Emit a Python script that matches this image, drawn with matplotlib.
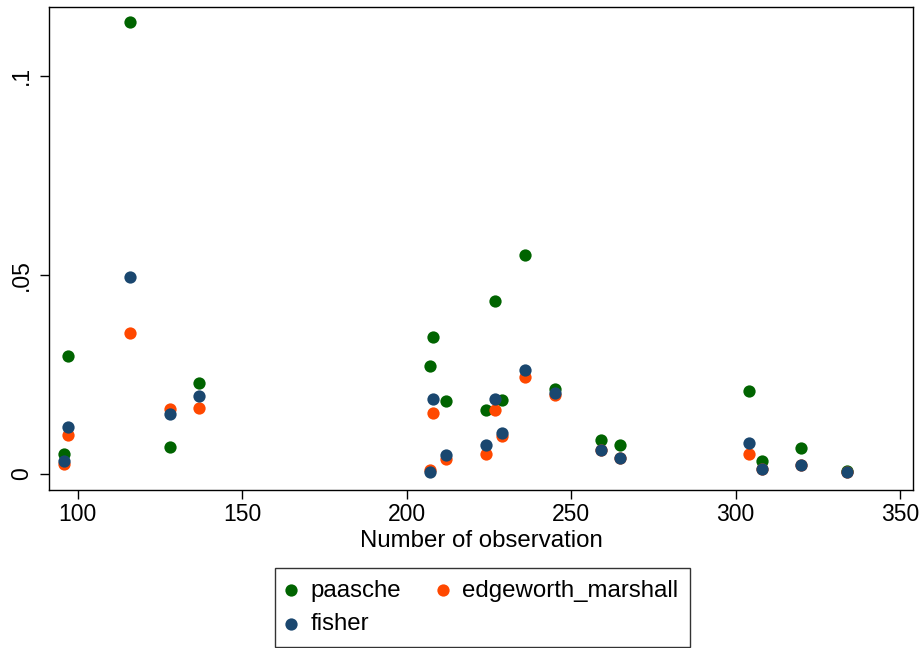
import numpy as np
import matplotlib
matplotlib.use("Agg")
import matplotlib.pyplot as plt

plt.rcParams['font.family'] = ['Liberation Sans', 'DejaVu Sans']

# number of observations per group
n_obs = [96, 97, 116, 128, 137, 207, 208, 212, 224, 227,
         229, 236, 245, 259, 265, 304, 308, 320, 334]

paasche = [0.0049, 0.0296, 0.1136, 0.0066, 0.0228, 0.0271, 0.0343, 0.0183, 0.0161, 0.0433,
           0.0186, 0.0550, 0.0213, 0.0085, 0.0073, 0.0209, 0.0033, 0.0064, 0.0008]
edgeworth_marshall = [0.0024, 0.0098, 0.0353, 0.0163, 0.0165, 0.0010, 0.0152, 0.0038, 0.0050, 0.0161,
                      0.0095, 0.0242, 0.0198, 0.0059, 0.0039, 0.0049, 0.0011, 0.0021, 0.0004]
fisher = [0.0031, 0.0118, 0.0494, 0.0150, 0.0195, 0.0004, 0.0188, 0.0046, 0.0073, 0.0188,
          0.0102, 0.0260, 0.0204, 0.0060, 0.0040, 0.0077, 0.0012, 0.0021, 0.0004]

xticks = [100, 150, 200, 250, 300, 350]
yticks = [0, 0.05, 0.1]
ytick_labels = ['0', '.05', '.1']

fig = plt.figure(figsize=(9.24, 6.48), dpi=100)
ax = fig.add_axes([0.053, 0.2443, 0.935, 0.7454])

# stata-ish marker colors
h1 = ax.scatter(n_obs, paasche, s=78, color='#006400', linewidths=0, label='paasche')
h2 = ax.scatter(n_obs, edgeworth_marshall, s=78, color='#FF4800', linewidths=0, label='edgeworth_marshall')
h3 = ax.scatter(n_obs, fisher, s=78, color='#1A476F', linewidths=0, label='fisher')

ax.set_xlim(91.3, 353.9)
ax.set_ylim(-0.00402, 0.11741)
ax.set_xticks(xticks)
ax.set_yticks(yticks)
ax.set_yticklabels(ytick_labels, rotation=90, va='center')
ax.tick_params(axis='both', direction='out', length=6.5, width=1, labelsize=16.5, color='black')
ax.tick_params(axis='x', pad=3)
ax.tick_params(axis='y', pad=5)
for sp in ax.spines.values():
    sp.set_linewidth(1.0)
ax.set_xlabel('Number of observation', fontsize=17.3, labelpad=3)

# legend: paasche / fisher in column 1, edgeworth_marshall in column 2
leg = fig.legend([h1, h3, h2], ['paasche', 'fisher', 'edgeworth_marshall'],
                 ncol=2, loc='center', bbox_to_anchor=(0.522, 0.0625),
                 fontsize=17.3, frameon=True, fancybox=False, edgecolor='black',
                 handlelength=0.36, handletextpad=0.63, columnspacing=1.55,
                 labelspacing=0.48, borderpad=0.5, markerscale=1.0)
leg.get_frame().set_linewidth(1.0)

fig.savefig('out.png', dpi=100)
